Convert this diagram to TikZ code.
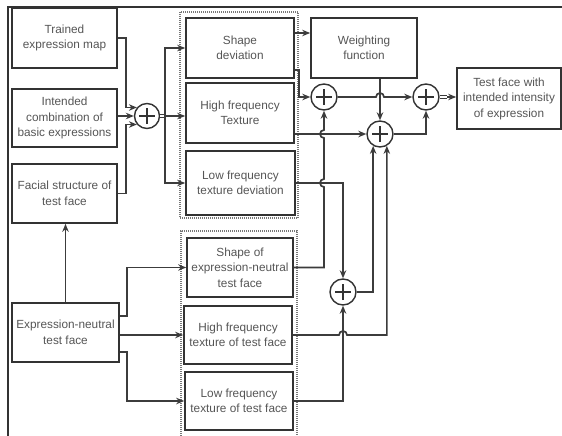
\documentclass[tikz,border=0pt]{standalone}
\usepackage{fontspec}
\setmainfont{Liberation Sans}
\newfontfamily\serifb{Liberation Serif}
\usetikzlibrary{arrows.meta,calc}
\definecolor{ln}{HTML}{333333}
\definecolor{cn}{HTML}{3C3C3C}
\definecolor{tx}{HTML}{555555}
\definecolor{grpc}{HTML}{777777}
\begin{document}
\begin{tikzpicture}[x=1pt,y=-1pt,
  box/.style={draw=ln,line width=1.7pt,rectangle,inner sep=1pt,align=center,text=tx,
    font=\fontsize{11.8}{15.5}\selectfont},
  conn/.style={draw=cn,line width=1.7pt},
  arr/.style={conn,-{Stealth[length=8pt,width=6.5pt]}},
  dbl/.style={draw=cn,line width=1pt,double=white,double distance=2.4pt},
  plus/.style={circle,draw=ln,line width=1.4pt,minimum size=25pt,inner sep=0pt,
    path picture={\draw[ln,line width=1.2pt]
      ([xshift=-8pt]path picture bounding box.center) -- ([xshift=8pt]path picture bounding box.center)
      ([yshift=-8pt]path picture bounding box.center) -- ([yshift=8pt]path picture bounding box.center);}},
  grp/.style={draw=grpc,line width=1.3pt,dash pattern=on 1pt off 1pt}]
\useasboundingbox (0,0) rectangle (562,436);
\clip (0,0) rectangle (562,436);

% clipped caption line and frame
\node[anchor=base west,inner sep=0pt,font=\serifb\bfseries\fontsize{26}{26}\selectfont] (cap) at (0,0) {tion. The conclusions are summarized in};
\draw[ln,line width=1.5pt] (8,440) -- (8,7) -- (566,7);

% dotted groups
\draw[grp] (180,12) rectangle (298,218);
\draw[grp] (181,440) -- (181,231) -- (297,231) -- (297,440);

% boxes
\node[box,minimum width=105pt,minimum height=60pt] (trained) at (64.5,38) {Trained\\expression map};
\node[box,minimum width=105pt,minimum height=58pt] (intended) at (64.5,118) {Intended\\combination of\\basic expressions};
\node[box,minimum width=105pt,minimum height=59pt] (facial) at (64.5,193.5) {Facial structure of\\test face};
\node[box,minimum width=107pt,minimum height=59pt] (neutral) at (65.5,332.5) {Expression-neutral\\test face};
\node[box,minimum width=108pt,minimum height=60pt] (shapedev) at (240,48) {Shape\\deviation};
\node[box,minimum width=108pt,minimum height=60pt] (hftex) at (240,113) {High frequency\\Texture};
\node[box,minimum width=109pt,minimum height=64pt] (lftex) at (240.5,183) {Low frequency\\texture deviation};
\node[box,minimum width=106pt,minimum height=60pt] (weight) at (364,48) {Weighting\\function};
\node[box,minimum width=104pt,minimum height=61pt] (testface) at (509,98.5) {Test face with\\intended intensity\\of expression};
\node[box,minimum width=106pt,minimum height=59pt] (shapeneu) at (240,267.5) {Shape of\\expression-neutral\\test face};
\node[box,minimum width=108pt,minimum height=58pt] (hfneu) at (238,335) {High frequency\\texture of test face};
\node[box,minimum width=108pt,minimum height=58pt] (lfneu) at (239,401) {Low frequency\\texture of test face};

% adders
\node[plus] (p0) at (147,116) {};
\node[plus,minimum size=26pt] (p1) at (324,97) {};
\node[plus,minimum size=26pt] (p2) at (380,134) {};
\node[plus,minimum size=26pt] (p3) at (426,97) {};
\node[plus,minimum size=26pt] (p4) at (343,292) {};

% inputs of the first adder
\draw[arr] (trained.east) -- ++(8,0) |- (p0.140);
\draw[arr] (intended.east |- p0) -- (p0.west);
\draw[arr] (facial.east) -- ++(8,0) |- (p0.220);

% first adder to the deviations
\coordinate (t0) at (165,116);
\draw[dbl] (p0.east) -- (t0);
\draw[arr] (t0) |- (shapedev.west);
\draw[arr] (t0) -- (hftex.west |- t0);
\draw[arr] (t0) |- (lftex.west);

% right part
\draw[arr] ([yshift=15pt]shapedev.east) -- ([yshift=15pt]shapedev.east -| weight.west);
\draw[arr] ([yshift=-22pt]shapedev.east) -- ++(4,0) |- (p1.west);
\draw[arr] (weight.south -| p2) -- (p2.north);
\draw[arr] (p1.east) -- (376,97) arc[start angle=180,end angle=360,radius=4] -- (p3.west);
\draw[arr] (hftex.east |- p2) -- (p2.west);
\draw[arr] (shapeneu.east) -- (324,267.5) -- (324,187) arc[start angle=90,end angle=270,radius=4]
  -- (324,138) arc[start angle=90,end angle=270,radius=4] -- (p1.south);
\draw[arr] (lftex.east) -| (p4.north);
\draw[arr] (p4.east) -| (p2.240);
\draw[arr] (hfneu.east) -- (339,335) arc[start angle=180,end angle=360,radius=4] -| (p2.300);
\draw[arr] (lfneu.east) -| (p4.south);
\draw[arr] (p2.east) -| (p3.south);
\coordinate (t3) at (447,97);
\draw[dbl] (p3.east) -- (t3);
\draw[arr] (t3) -- (testface.west |- t3);

% neutral face outputs
\draw[arr] (neutral.north) -- (neutral.north |- facial.south);
\draw[arr] ([yshift=16.5pt]neutral.east) -- ++(7,0) |- (shapeneu.west);
\draw[arr] (hfneu.west -| neutral.east) -- (hfneu.west);
\draw[arr] ([yshift=-19.5pt]neutral.east) -- ++(7,0) |- (lfneu.west);
\end{tikzpicture}
\end{document}
